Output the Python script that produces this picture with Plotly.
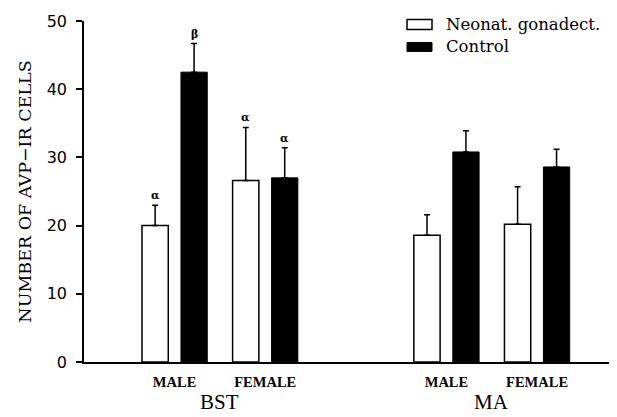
import plotly.graph_objects as go

# ---- data ----
regions = ["BST", "BST", "MA", "MA"]
sexes = ["MALE", "FEMALE", "MALE", "FEMALE"]
gonadect_mean = [20.0, 26.6, 18.6, 20.2]
gonadect_err = [3.0, 7.8, 3.0, 5.5]
control_mean = [42.5, 27.0, 30.8, 28.6]
control_err = [4.2, 4.4, 3.1, 2.6]
gonadect_sig = ["α", "α", "", ""]
control_sig = ["β", "α", "", ""]
y_ticks = [0, 10, 20, 30, 40, 50]

# category positions: one gap between regions
region_order = ["BST", "MA"]
sex_order = ["MALE", "FEMALE"]
pos = [region_order.index(r) * 3 + sex_order.index(s) + 1 for r, s in zip(regions, sexes)]

BAR_W = 0.29
SHIFT = 0.215

fig = go.Figure()
fig.add_trace(go.Bar(
    x=pos, y=gonadect_mean, name="Neonat. gonadect.",
    width=BAR_W, offset=-SHIFT - BAR_W / 2,
    marker=dict(color="white", line=dict(color="black", width=1.5)),
    error_y=dict(type="data", array=gonadect_err, arrayminus=[0] * 4, symmetric=False,
                 color="black", thickness=1.5, width=3),
    showlegend=False,
))
fig.add_trace(go.Bar(
    x=pos, y=control_mean, name="Control",
    width=BAR_W, offset=SHIFT - BAR_W / 2,
    marker=dict(color="black", line=dict(color="black", width=1)),
    error_y=dict(type="data", array=control_err, arrayminus=[0] * 4, symmetric=False,
                 color="black", thickness=1.5, width=3),
    showlegend=False,
))

SIG_FONT = dict(family="DejaVu Serif", size=11, color="black", weight="bold")
annotations = []
for p, m, e, s in zip(pos, gonadect_mean, gonadect_err, gonadect_sig):
    if s:
        annotations.append(dict(x=p - SHIFT, y=m + e, text=s, showarrow=False, yanchor="bottom",
                                yshift=1, font=SIG_FONT))
for p, m, e, s in zip(pos, control_mean, control_err, control_sig):
    if s:
        annotations.append(dict(x=p + SHIFT, y=m + e, text=s, showarrow=False, yanchor="bottom",
                                yshift=1, font=SIG_FONT))

# plot-area geometry (page pixels; the page body adds an 8px offset)
OFF = 8
L, R, T, B = 84, 615, 20.5, 362
W, H = 617 - OFF, 417 - OFF
def px(x):
    return (x - L) / (R - L)
def py(y):
    return (B - y) / (B - T)

# region labels
for r in region_order:
    xs = [p for p, rr in zip(pos, regions) if rr == r]
    annotations.append(dict(x=sum(xs) / len(xs), y=0, xref="x", yref="paper", text=r,
                            showarrow=False, yanchor="bottom", yshift=-(H - (B - OFF)) + 1,
                            font=dict(family="Liberation Serif", size=21, color="black")))

shapes = [
    dict(type="rect", xref="paper", yref="paper", x0=px(407), x1=px(432), y0=py(29), y1=py(19),
         fillcolor="white", line=dict(color="black", width=1.5)),
    dict(type="rect", xref="paper", yref="paper", x0=px(407), x1=px(432), y0=py(51), y1=py(42),
         fillcolor="black", line=dict(color="black", width=1)),
]
LEG_FONT = dict(family="DejaVu Serif", size=16.5, color="black")
annotations.append(dict(x=px(444), y=py(24), xref="paper", yref="paper", text="Neonat. gonadect.",
                        showarrow=False, xanchor="left", yanchor="middle", font=LEG_FONT))
annotations.append(dict(x=px(444), y=py(46), xref="paper", yref="paper", text="Control",
                        showarrow=False, xanchor="left", yanchor="middle", font=LEG_FONT))

fig.update_layout(
    width=W, height=H,
    margin=dict(l=L - OFF, r=W - (R - OFF), t=T - OFF, b=H - (B - OFF), autoexpand=False),
    paper_bgcolor="white", plot_bgcolor="white",
    barmode="overlay",
    shapes=shapes, annotations=annotations,
    xaxis=dict(range=[0, 5.86], tickvals=pos, ticktext=sexes, ticks="", showgrid=False,
               zeroline=False, showline=True, linecolor="black", linewidth=1.5,
               ticklabelstandoff=6,
               tickfont=dict(family="Liberation Serif", size=14.5, color="black", weight="bold")),
    yaxis=dict(range=[0, 50], tickvals=y_ticks, ticks="outside", ticklen=6, tickwidth=1.5,
               tickcolor="black", showgrid=False, zeroline=False, showline=True,
               linecolor="black", linewidth=1.5, ticklabelstandoff=6,
               tickfont=dict(family="DejaVu Sans", size=16, color="black"),
               title=dict(text="NUMBER OF AVP−IR CELLS", standoff=11,
                          font=dict(family="DejaVu Serif", size=17.5, color="black"))),
)

fig.write_html("out.html")
